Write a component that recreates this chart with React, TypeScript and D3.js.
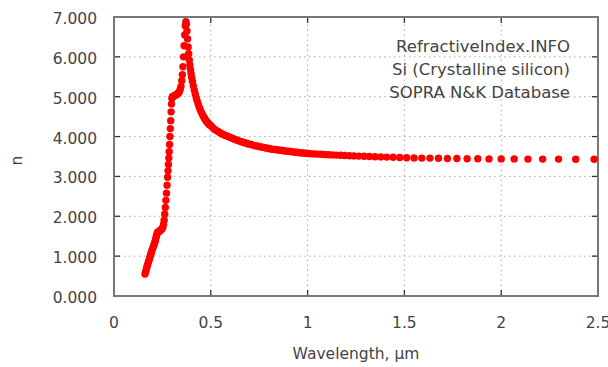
import { useEffect, useRef } from "react";
import * as d3 from "d3";

// wavelength, µm
const wavelengths = [
  0.160, 0.163, 0.166, 0.169, 0.172, 0.175, 0.178, 0.181, 0.184, 0.187,
  0.190, 0.193, 0.196, 0.199, 0.202, 0.205, 0.208, 0.211, 0.214, 0.217,
  0.220, 0.223, 0.226, 0.229, 0.232, 0.236, 0.240, 0.244, 0.248, 0.252,
  0.256, 0.259, 0.262, 0.265, 0.268, 0.271, 0.274, 0.277, 0.279, 0.281,
  0.283, 0.285, 0.287, 0.289, 0.291, 0.293, 0.295, 0.297, 0.299, 0.302,
  0.306, 0.310, 0.314, 0.318, 0.322, 0.326, 0.330, 0.334, 0.338, 0.342,
  0.346, 0.350, 0.353, 0.356, 0.359, 0.362, 0.365, 0.368, 0.371, 0.374,
  0.377, 0.380, 0.383, 0.386, 0.389, 0.392, 0.395, 0.398, 0.401, 0.405,
  0.410, 0.415, 0.420, 0.425, 0.430, 0.435, 0.440, 0.445, 0.450, 0.455,
  0.460, 0.465, 0.470, 0.475, 0.480, 0.485, 0.490, 0.495, 0.500, 0.510,
  0.520, 0.530, 0.540, 0.550, 0.560, 0.570, 0.580, 0.590, 0.600, 0.610,
  0.620, 0.630, 0.640, 0.650, 0.660, 0.670, 0.680, 0.690, 0.700, 0.710,
  0.720, 0.730, 0.740, 0.750, 0.760, 0.770, 0.780, 0.790, 0.800, 0.810,
  0.820, 0.830, 0.840, 0.850, 0.860, 0.870, 0.880, 0.890, 0.900, 0.910,
  0.920, 0.930, 0.940, 0.950, 0.960, 0.970, 0.980, 0.990, 1.000, 1.016,
  1.033, 1.051, 1.069, 1.088, 1.107, 1.127, 1.148, 1.170, 1.192, 1.216,
  1.240, 1.265, 1.292, 1.319, 1.348, 1.378, 1.409, 1.442, 1.476, 1.512,
  1.550, 1.590, 1.632, 1.676, 1.722, 1.771, 1.824, 1.879, 1.937, 2.000,
  2.067, 2.138, 2.214, 2.296, 2.385, 2.480,
];

// refractive index n
const nValues = [
  0.55, 0.60, 0.65, 0.71, 0.76, 0.81, 0.86, 0.90, 0.95, 1.00,
  1.05, 1.09, 1.14, 1.18, 1.22, 1.26, 1.30, 1.35, 1.40, 1.46,
  1.52, 1.57, 1.60, 1.61, 1.62, 1.63, 1.65, 1.67, 1.69, 1.72,
  1.80, 1.90, 2.05, 2.22, 2.40, 2.58, 2.78, 2.98, 3.14, 3.30,
  3.46, 3.62, 3.80, 4.00, 4.20, 4.40, 4.62, 4.82, 4.96, 5.00,
  5.01, 5.02, 5.03, 5.04, 5.05, 5.06, 5.08, 5.10, 5.13, 5.18,
  5.26, 5.40, 5.55, 5.75, 6.00, 6.28, 6.55, 6.78, 6.88, 6.82,
  6.65, 6.45, 6.25, 6.08, 5.92, 5.80, 5.68, 5.58, 5.49, 5.39,
  5.27, 5.16, 5.06, 4.97, 4.89, 4.81, 4.74, 4.68, 4.62, 4.57,
  4.52, 4.48, 4.44, 4.40, 4.37, 4.34, 4.31, 4.29, 4.27, 4.22,
  4.18, 4.15, 4.12, 4.09, 4.06, 4.04, 4.02, 4.00, 3.98, 3.96,
  3.94, 3.92, 3.90, 3.88, 3.87, 3.85, 3.84, 3.82, 3.81, 3.80,
  3.78, 3.77, 3.76, 3.75, 3.74, 3.73, 3.72, 3.71, 3.70, 3.69,
  3.68, 3.675, 3.67, 3.66, 3.655, 3.65, 3.64, 3.635, 3.63, 3.625,
  3.62, 3.61, 3.605, 3.60, 3.595, 3.59, 3.585, 3.58, 3.575, 3.57,
  3.565, 3.56, 3.555, 3.55, 3.545, 3.54, 3.535, 3.53, 3.525, 3.52,
  3.515, 3.51, 3.505, 3.50, 3.495, 3.49, 3.485, 3.48, 3.475, 3.47,
  3.465, 3.46, 3.46, 3.455, 3.45, 3.45, 3.445, 3.445, 3.44, 3.44,
  3.44, 3.435, 3.435, 3.435, 3.43, 3.43,
];

const xTicks = [0, 0.5, 1, 1.5, 2, 2.5];
const yTicks = [0, 1, 2, 3, 4, 5, 6, 7];
const annotation = ["RefractiveIndex.INFO", "Si (Crystalline silicon)", "SOPRA N&K Database"];

const W = 608;
const H = 367;
const margin = { top: 17, right: 10, bottom: 71, left: 114 };
const FONT = "'DejaVu Sans', sans-serif";

export default function App() {
  const svgRef = useRef<SVGSVGElement>(null);

  useEffect(() => {
    const svg = d3.select(svgRef.current);
    svg.selectAll("*").remove();

    const x = d3.scaleLinear().domain([0, 2.5]).range([margin.left, W - margin.right]);
    const y = d3.scaleLinear().domain([0, 7]).range([H - margin.bottom, margin.top]);

    svg.append("rect").attr("width", W).attr("height", H).attr("fill", "#fff");

    // dotted grid
    const grid = svg.append("g").attr("stroke", "#aaa").attr("stroke-width", 1).attr("stroke-dasharray", "1.5,3.5");
    grid.selectAll("line.h")
      .data(yTicks.slice(1, -1))
      .join("line")
      .attr("x1", x(0)).attr("x2", x(2.5))
      .attr("y1", d => y(d)).attr("y2", d => y(d));
    grid.selectAll("line.v")
      .data(xTicks.slice(1, -1))
      .join("line")
      .attr("class", "v")
      .attr("y1", y(0)).attr("y2", y(7))
      .attr("x1", d => x(d)).attr("x2", d => x(d));

    // inward ticks, all four sides
    const ticks = svg.append("g").attr("stroke", "#333").attr("stroke-width", 1.3);
    xTicks.slice(1, -1).forEach(t => {
      ticks.append("line").attr("x1", x(t)).attr("x2", x(t)).attr("y1", y(0)).attr("y2", y(0) - 6);
      ticks.append("line").attr("x1", x(t)).attr("x2", x(t)).attr("y1", y(7)).attr("y2", y(7) + 6);
    });
    yTicks.slice(1, -1).forEach(t => {
      ticks.append("line").attr("x1", x(0)).attr("x2", x(0) + 6).attr("y1", y(t)).attr("y2", y(t));
      ticks.append("line").attr("x1", x(2.5)).attr("x2", x(2.5) - 6).attr("y1", y(t)).attr("y2", y(t));
    });

    // frame
    svg.append("rect")
      .attr("x", x(0)).attr("y", y(7))
      .attr("width", x(2.5) - x(0)).attr("height", y(0) - y(7))
      .attr("fill", "none").attr("stroke", "#777").attr("stroke-width", 2);

    // data points
    const pts = wavelengths.map((w, i) => ({ w, n: nValues[i] }));
    svg.append("g")
      .selectAll("circle")
      .data(pts)
      .join("circle")
      .attr("cx", d => x(d.w))
      .attr("cy", d => y(d.n))
      .attr("r", 3.7)
      .attr("fill", "#ff0000");

    // tick labels
    svg.append("g")
      .selectAll("text")
      .data(yTicks)
      .join("text")
      .attr("x", x(0) - 17)
      .attr("y", d => y(d) + 2)
      .attr("text-anchor", "end")
      .attr("dominant-baseline", "central")
      .style("font-family", FONT)
      .style("font-size", "15.5px")
      .style("fill", "#444")
      .text(d => d3.format(".3f")(d));

    svg.append("g")
      .selectAll("text")
      .data(xTicks)
      .join("text")
      .attr("x", d => x(d))
      .attr("y", y(0) + 27)
      .attr("text-anchor", "middle")
      .attr("dominant-baseline", "central")
      .style("font-family", FONT)
      .style("font-size", "15.5px")
      .style("fill", "#444")
      .text(d => String(d));

    // axis titles
    svg.append("text")
      .attr("transform", `translate(17, ${(y(0) + y(7)) / 2 + 4}) rotate(-90)`)
      .attr("text-anchor", "middle")
      .attr("dominant-baseline", "central")
      .style("font-family", FONT)
      .style("font-size", "15.5px")
      .style("fill", "#444")
      .text("n");

    svg.append("text")
      .attr("x", (x(0) + x(2.5)) / 2)
      .attr("y", 354)
      .attr("text-anchor", "middle")
      .attr("dominant-baseline", "central")
      .style("font-family", FONT)
      .style("font-size", "15.5px")
      .style("fill", "#444")
      .text("Wavelength, \u00b5m");

    // source note
    svg.append("g")
      .selectAll("text")
      .data(annotation)
      .join("text")
      .attr("x", 570)
      .attr("y", (d, i) => 52 + i * 23)
      .attr("text-anchor", "end")
      .style("font-family", FONT)
      .style("font-size", "16.5px")
      .style("fill", "#444")
      .text(d => d);
  }, []);

  return (
    <svg
      ref={svgRef}
      width={W}
      height={H}
      style={{ position: "absolute", left: 0, top: 0, display: "block" }}
    />
  );
}
